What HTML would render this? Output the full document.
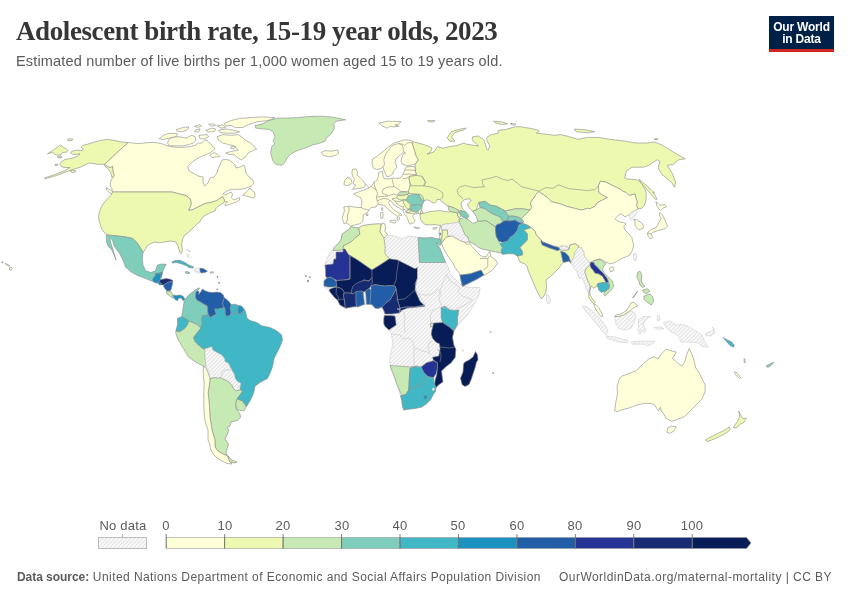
<!DOCTYPE html>
<html><head><meta charset="utf-8">
<style>
html,body{margin:0;padding:0;background:#fff;}
body{width:850px;height:600px;position:relative;overflow:hidden;font-family:"Liberation Sans",sans-serif;}
.t{position:absolute;white-space:nowrap;will-change:transform;}
#title{left:16px;top:16px;font-family:"Liberation Serif",serif;font-size:27px;color:#363636;letter-spacing:-0.4px;font-weight:bold;}
#sub{left:16.2px;top:52.9px;font-size:14.5px;color:#5b5b5b;letter-spacing:0.165px;}
#logo{position:absolute;will-change:transform;left:769px;top:16px;width:65px;height:33px;background:#002147;border-bottom:3px solid #ce261e;color:#fff;text-align:center;font-size:12px;line-height:12px;font-weight:bold;letter-spacing:-0.2px;}
#logo div{padding-top:5px;}
#foot{left:17px;top:569.5px;font-size:12px;color:#5b5b5b;letter-spacing:0.43px;}
#foot b{color:#5b5b5b;letter-spacing:-0.05px;}
#foot2{right:18px;top:569.5px;font-size:12px;color:#5b5b5b;letter-spacing:0.46px;}
.lab{position:absolute;will-change:transform;top:518px;font-size:13px;color:#5b5b5b;transform:translateX(-50%);letter-spacing:0.2px;}
svg{position:absolute;left:0;top:0;}
</style></head><body>
<svg width="850" height="600" viewBox="0 0 850 600">
<defs><pattern id="h" patternUnits="userSpaceOnUse" width="2.83" height="4" patternTransform="rotate(45)"><rect width="2.83" height="4" fill="#fff"/><line x1="0.7" y1="0" x2="0.7" y2="4" stroke="#e3e3e3" stroke-width="1.3"/></pattern></defs>
<g stroke="#8a8a8a" stroke-width="0.6" stroke-linejoin="round">
<path fill="#edf8b1" d="M128.1 142.5L121.2 141.9L115 140.6L108.1 139.4L102.5 140L95 141.9L88.8 143.8L82.5 145.6L81.2 146.9L83.1 149.4L82.5 150.6L77.5 150L71.9 151.2L70.6 153.1L72.5 154.4L77.5 154.4L80 153.8L77.5 156.2L72.5 158.1L65 159.4L61.2 161.9L60 164.4L61.9 166.9L65 167.5L70 167.5L65 170.6L55 174.4L44.4 178.1L45 178.8L56.2 175.6L71.2 170L81.2 166.9L88.8 163.1L93.8 163.5L98.8 164.4L104.4 164.4L107.5 166.2L110 167.5L112.5 166.2L113.1 171.2L114.4 175.6L111.9 177.5L110.6 172.5L108.1 168.8L105 166.2L104.4 164.4Z"/>
<path fill="#edf8b1" d="M47.5 153.8L52.5 150.6L60.6 144.8L63.1 146.9L66.9 149.4L68.1 150.6L66.2 152.2L62.5 152.5L60.6 155L56.2 155L52.5 152.5Z"/>
<path fill="#edf8b1" d="M67.5 139.5L70 138.8L73 139L72 140.6L68 140.6Z"/>
<path fill="#edf8b1" d="M55 164.4L58 164.2L57.5 165.6L55 165.6Z"/>
<path fill="#edf8b1" d="M57.5 156.5L61 156L62 157.5L58 158Z"/>
<path fill="#edf8b1" d="M70 171L73 170L76 171L73 173Z"/>
<path fill="#c7e9b4" d="M255 125.6L262.5 123.8L268.8 120.6L277.5 118.1L287.5 118.1L298.8 117.5L308.8 116.5L320 116.2L332.5 117.1L345.6 119.8L336.2 121.2L333.8 123.8L334.4 128.1L332.5 131.9L330 135L326.2 138.1L325 141.2L320 143.1L312.5 145L305 148.1L297.5 150.6L291.2 153.8L287.5 157.5L283.8 163.8L281.2 165.6L275 163.8L272.5 160L270.6 152.5L271.9 146.2L275 143.8L273.1 141.2L275 136.2L272.5 131.2L268.8 129.4L261.2 128.8L255.6 128.1Z"/>
<path fill="#ffffd9" d="M321.2 152.5L325 150.6L331.2 151.2L337.5 150L338.8 153.1L335 155.6L328.8 156.9L323.8 155.6Z"/>
<path fill="#ffffd9" d="M378.8 123.1L387.5 121.2L401.2 121.5L398.8 123.8L395 125L398.8 126.2L393.8 126.9L390 126.2L387.5 128.1L382.5 126.2Z"/>
<path fill="#edf8b1" d="M427.5 120.6L435 120.6L433 121.9L429 121.9Z"/>
<path fill="#ffffd9" d="M128.1 142.5L138.7 143.6L148 142.6L155 142.4L162.1 143.8L167.7 145.9L176.2 147.3L183.2 147.3L190.3 146.6L195.9 145.2L197.4 143.1L201.6 143.1L204.4 140.2L207.2 140.2L208.6 142.4L211 144L213 147L215 148L213 150.5L210 153L205 155L200 157L195 160L190 164L187.5 167L189 171L193 173L198 176L203 177L203 182L204.5 186L208 183L210 178L214 177L217 173L218 169L220 165L222 160L225 159.5L229 160L232 162L235 165L236 168L240 167L244 165L245 168L246 173L249 177L252 179L254 183L251.5 186.2L248.5 187L244.8 188.5L241 189.2L236.5 189.2L232 189.6L229 190L226 191.5L223 193.8L224.5 195L227.5 193.8L231.2 192.2L232.8 194.5L231.2 197.5L233.5 199.8L236.5 199L239.5 197.5L239.5 199.8L236.5 202L232 203.5L227.5 205L225.2 205.8L225.2 203.5L227.5 202L224.5 201.2L224.5 200.5L223 196.8L220 198.2L217 200.5L212.5 202L205 203.5L200 206L193 209.5L188.6 210.4L191.2 204.2L190.4 199L186 195.5L179 193.8L172 192L112.5 192L111.9 188.8L110 185L111.2 180L114.4 175.6L113.1 171.2L112.5 166.2L110 167.5L107.5 166.2L104.4 164.4Z"/>
<path fill="#ffffd9" d="M242.5 195.2L247 191.5L250 187.8L251.5 190L254.5 192.2L255.2 196L253.8 198.2L251.5 197.5L249.2 196.8L246.2 196Z"/>
<path fill="#ffffd9" d="M106 188L109 189L113 192L113.5 195L110 193L106.5 190Z"/>
<path fill="#ffffd9" d="M159.2 138.8L163.5 135.3L169.1 133.2L177.6 133.9L176.2 136.7L169.1 138.1L163.5 139.5Z"/>
<path fill="#ffffd9" d="M168.4 140.2L171.9 137.4L179 136.7L186.1 138.1L191.7 135.3L195.2 136.7L195.9 140.2L193.1 143.1L188.9 144.5L183.2 145.9L176.2 145.9L169.1 145.9L167.7 143.1Z"/>
<path fill="#ffffd9" d="M176.2 129.6L183.2 127.5L188.9 126.8L187.5 129.6L181.8 131.8L176.9 131.1Z"/>
<path fill="#ffffd9" d="M194.5 126.1L200.2 124.7L201.6 126.1L197.4 127.5Z"/>
<path fill="#ffffd9" d="M196 129.6L200.2 128.9L198.8 131.8L194.5 131.8Z"/>
<path fill="#ffffd9" d="M198.8 135.3L207.2 134.6L208.6 136.7L204.4 138.8L200.2 138.8Z"/>
<path fill="#ffffd9" d="M205.8 130.4L211.5 128.2L215.7 128.9L214.3 131.8L208.6 131.8Z"/>
<path fill="#ffffd9" d="M208.6 124L214.3 124L215.7 125.4L211.5 126.1Z"/>
<path fill="#ffffd9" d="M217.1 126.1L222.8 124.7L225.6 127.5L221.4 128.2Z"/>
<path fill="#ffffd9" d="M218.5 130.4L225.6 128.9L234.1 130.4L239.7 131.8L234.1 133.2L225.6 133.2L220 132.5Z"/>
<path fill="#ffffd9" d="M224.2 123.3L231.2 120.5L239.7 118.4L251 117.6L262.3 116.9L275 117.6L268 120.5L256.6 121.9L248.2 124.7L242.5 127.5L235.5 127.5L231.2 125.4L225.6 126.1Z"/>
<path fill="#ffffd9" d="M217.1 136.7L222.8 134.6L231.2 135.3L238.3 134.6L242.5 137.4L245.4 140.2L249.6 142.4L253.8 145.9L256.6 149.4L252.4 150.8L248.2 152.9L245.4 157.2L241.1 160L236.9 157.2L234.1 154.4L228.4 154.4L225.6 152.9L231.2 151.5L238.3 150.1L234.1 145.9L228.4 144.5L222.8 143.1L218.5 140.2Z"/>
<path fill="#ffffd9" d="M231.2 146.6L235.5 146.6L234.1 148.7L230.5 148.4Z"/>
<path fill="#ffffd9" d="M210 155L214 152.5L218 154.5L220 156.5L216 157L212 157.5Z"/>
<path fill="#edf8b1" d="M112.5 192L172 192L179 193.8L186 195.5L190.4 199L191.2 204.2L188.6 210.4L193 209.5L200 206L205 203.5L212.5 202L217 200.5L220 198.2L223 196.8L224.5 200.5L223.8 202.8L220 205L216.2 208L214.8 211L209.5 213.2L205 215.5L201.8 218.2L200 221.8L196.5 224.4L193 228L189.5 231.4L184.2 235.8L182.5 239.2L181.6 244.5L182.5 249.8L181.6 253.2L179.9 252.4L178.1 246.2L175.5 241.9L170.2 241L165 241.9L159.8 242.8L154.5 241.9L151 243.6L147.5 245.4L144.9 249.8L143.1 252.4L140.5 248L137 242.8L132.6 238.4L128.2 237.5L123 236.6L116 235.8L106.4 234.9L102 229.6L99.4 221.8L98.5 216.5L100.2 209.5L102.9 204.2L107.2 199L110.8 195.5Z"/>
<path fill="#7fcdbb" d="M106.4 234.9L116 235.8L123 236.6L128.2 237.5L132.6 238.4L137 242.8L140.5 248L143.1 252.4L142.2 258.5L143.1 265.5L145.8 270.8L151 272.5L155.4 270.8L157.5 265L161.9 264L166.3 264.3L164.4 267.5L162.6 271.8L160.7 272.7L159.3 273.2L155.1 273.7L156 275L155.1 276L153.7 277.4L152.8 279.3L151.9 280.7L150 280.5L145.8 278.6L138.8 276L131.8 272.5L125.6 267.2L123 260.2L119.5 253.2L114.2 246.2L112.5 240.1L109.9 237.5L110.5 242L113 250L116 260.2L114.2 255L111.6 249.8L108.1 246.2L106.4 241Z"/>
<path fill="#41b6c4" d="M171.9 261.9L175 260.6L180 260.2L185 262.5L188.8 265L193.8 266.9L193.1 268.1L188.8 267.5L186.2 265.6L181.2 263.8L176.2 262.5L172.5 263.1Z"/>
<path fill="url(#h)" stroke="#cdcdcd" d="M195 268.8L200 268.1L200 273.1L196.2 272.5L197.5 271.2L194.4 271.2Z"/>
<path fill="#225ea8" d="M200 268.1L203.8 268.8L207.5 271.2L205 272.5L201.2 273.1L200 271.2Z"/>
<path fill="#7fcdbb" d="M185 271.9L187.5 271.5L190 273.1L186.9 273.8Z"/>
<path fill="#edf8b1" d="M210 271.9L213.8 271.9L213.1 273.1L210 273.1Z"/>
<path fill="#1d91c0" d="M155.1 273.7L159.3 273.2L160.7 272.7L161.2 277.4L159.8 277.9L161.2 278.8L159.8 280.2L159.3 281.6L157.9 283L156.1 283L153.7 282.1L152.3 281.1L152.8 279.3L153.7 277.4L155.1 276L156 275Z"/>
<path fill="#1d91c0" d="M160.7 272.7L162.6 271.8L162.1 275.1L161.2 277.4Z"/>
<path fill="#1d91c0" d="M157.9 283L159.3 281.6L161.2 283.5L161.7 284.9L159.3 284.9Z"/>
<path fill="#172b73" d="M159.8 280.2L162.1 279.3L166.3 278.6L170.5 279.3L172.9 280.7L171.9 281.6L168.7 282.1L165.9 283.5L164 284.9L161.7 284.9L161.2 283.5L159.3 281.6Z"/>
<path fill="#225ea8" d="M164 284.9L165.9 283.5L168.7 282.1L171.9 281.6L172.9 280.7L172.4 284.4L171.5 288.1L170.6 290.6L167.5 291.2L165 288.8L163.5 286.2Z"/>
<path fill="#c7e9b4" d="M166.2 291.2L170.6 291.2L173.1 295L172.5 298.1L170 296.2L166.9 293.8Z"/>
<path fill="#1d91c0" d="M173.1 295L176.2 295.6L180 295L183.1 296.2L185 299.4L183.1 300.6L181.2 298.1L178.8 298.1L177.5 300.6L175.6 300L173.8 298.1Z"/>
<path fill="#7fcdbb" d="M198.6 287.8L199.5 288.5L197.5 290.5L196 292.5L195.6 296L195.6 297.7L197.3 300.3L200.8 302.1L203.4 303.8L206.9 305.5L207.7 307.3L207.7 311.6L208.6 315.1L207.7 315.1L202.5 315.9L201.7 319.4L202.5 322.9L200.8 328.1L197.3 324.6L191.3 322L188.7 321.1L185.2 318.5L181.7 316.5L182.6 311.6L183.5 305.5L184.3 300.3L188.7 295.1L193 291.7Z"/>
<path fill="#225ea8" d="M196 292.5L197.3 290.8L199.1 291.7L198.6 294.7L200.8 291.7L202.5 289.1L205.1 290.8L208.6 292.1L212.9 292.5L216.4 292.1L220.7 292.5L223.3 295.1L224.2 297.7L222.5 303.8L224.2 307.3L222.5 308.1L218.1 309L214.7 309L215.5 311.6L216.4 314.2L212.9 315.9L210.3 317.7L208.6 315.1L207.7 311.6L207.7 307.3L206.9 305.5L203.4 303.8L200.8 302.1L197.3 300.3L195.6 297.7L195.6 296Z"/>
<path fill="#225ea8" d="M224.2 297.7L226.8 299.5L229.4 302.1L231.1 304.7L230.3 308.1L231.1 312.5L230.3 315.1L226.8 316.8L225.1 314.2L225.1 309.9L224.2 307.3L222.5 303.8Z"/>
<path fill="#41b6c4" d="M231.1 304.7L235.5 304.2L238.1 305.5L238.1 309L237.2 313.3L233.7 314.2L231.1 313.3L230.3 308.1Z"/>
<path fill="#1d91c0" d="M238.1 305.5L241.5 306L244.1 309L242.4 312.5L239.8 314.2L237.6 313.3L238.1 309Z"/>
<path fill="#41b6c4" d="M202.5 315.9L207.7 315.1L208.6 315.1L210.3 317.7L212.9 315.9L216.4 314.2L215.5 311.6L214.7 309L218.1 309L222.5 308.1L224.2 307.3L225.1 309.9L225.1 314.2L226.8 316.8L230.3 315.1L231.1 313.3L233.7 314.2L237.2 313.3L239.8 314.2L242.4 312.5L244.1 309L245.9 312.5L246.7 317.7L250 320.5L256.7 322.5L261.7 325.8L270 327.5L276.7 330.8L281.7 335L282.5 340L280 346.7L276.7 353.3L274.2 358.3L272.5 366.7L270 373.3L267.5 378.5L260 382.5L255 386.2L253.8 392.5L251.2 398.8L247.5 405L246.2 406.9L242.5 401.2L236.9 398.8L242.5 391.2L240.5 390L240 386.7L240.8 383.3L237.5 381.7L235 378.3L234.2 374.2L231.7 370L230 366.7L228.3 363.3L225 361.7L224.2 358.3L221.7 355L216.7 352.5L212.5 350L211.7 346.7L206.7 348.3L203.3 349.2L198.3 345L195 341.7L193.3 337.5L196.7 333.3L200.8 328.1L202.5 322.9L201.7 319.4Z"/>
<path fill="#41b6c4" d="M177.5 318.3L181.7 316.7L185.2 318.5L188.7 321.1L187.8 324.6L185.2 328.1L180 331.7L175.8 330.8L177.5 325Z"/>
<path fill="#c7e9b4" d="M175.8 331.5L180 331.7L185.2 328.1L187.8 324.6L188.7 321.1L191.3 322L197.3 324.6L200.8 328.1L196.7 333.3L193.3 337.5L195 341.7L198.3 345L203.3 349.2L205 349.2L205 353.3L205 357.5L205.8 361.7L205.8 365.8L204 366.5L202.5 365.8L195 361.7L188.3 356.7L183.3 348.3L178.3 340L175.8 333.3Z"/>
<path fill="url(#h)" stroke="#cdcdcd" d="M205 349.2L211.7 346.7L212.5 350L216.7 352.5L221.7 355L224.2 358.3L225 361.7L228.3 363.3L230 366.7L231.7 370L228.3 370L225.8 370L222.5 371.7L221.7 375L220 377.5L217.5 378.3L215 377.5L211.7 378.3L210 376.7L209.2 372.5L207.5 369.2L205.8 365.8L205.8 361.7L205 357.5L205 353.3Z"/>
<path fill="url(#h)" stroke="#cdcdcd" d="M222.5 371.7L225.8 370L228.3 370L231.7 370L234.2 374.2L235 378.3L237.5 381.7L240.8 383.3L240 386.7L239.2 390L235.8 390.8L233.3 388.3L231.7 385L228.3 381.7L225 380L221.7 378.3L221.7 375Z"/>
<path fill="#c7e9b4" d="M236.9 398.8L242.5 401.2L246.2 406.2L244.4 410.6L240 410.6L236.2 408.8L235.6 403.8Z"/>
<path fill="#c7e9b4" d="M210 378.3L211.7 378.3L215 377.5L217.5 378.3L220 377.5L221.7 378.3L225 380L228.3 381.7L231.7 385L233.3 388.3L235.8 390.8L239.2 390L240.5 390L242.5 391.2L236.9 398.8L235.6 403.8L236.2 408.8L240 413.8L240.6 417.5L237.5 420.6L231.2 421.9L230 426.2L226.9 427.5L228.8 430L227.5 434L225 439L228.5 444L227 449L226 453L227.5 455.5L224 454.5L218 451L215 447L215 440L212 430L211.2 425L210 417.5L209.4 405L208.1 392.5L209.4 385Z"/>
<path fill="#c7e9b4" d="M228 456L232 460L237 462L234 463L230 462L228.5 459Z"/>
<path fill="#ffffd9" d="M203.3 366.7L205.8 367.5L208.3 373.3L210 378.3L209.4 385L208.1 392.5L209.4 405L210 417.5L212 430L215 440L215 447L218 451L224 454.5L227.5 456L228.5 459L230 462L232 464L227 463.5L222 461L217 458L213 454L210.5 449L209.5 443L208 440L208 430L206.2 425L204.4 417.5L203.8 405L203.8 395L204.2 383.3L203.3 375Z"/>
<path fill="url(#h)" stroke="#cdcdcd" d="M350.7 226.7L354 227.3L358.7 228L362.5 225.6L370 224.4L378.8 223.8L383.8 223.1L385.6 226.2L385 231.2L387.5 235L395 236.2L402.5 238.8L407.5 236.2L412.5 236.2L418.1 237.5L425 238.1L431.2 237.5L437.5 238.8L440 238.8L441.5 243L440 245.5L438 243.5L436.2 242.5L440 248.8L442.5 255L445.6 262.5L448.8 268.8L450 273.8L455 279L460 284L462.5 286.2L470 287.5L480 287.5L480 289L478.8 295L475 302.5L470 311.2L465 317.5L458.8 325L453.8 331.2L452.5 337.5L453.8 345L455.8 349.1L455.2 357.3L451.1 362.8L445.6 366.9L441.5 371L442.2 376.5L442.9 381.9L438.8 384.7L436 387.4L435.3 391.5L433.3 394.2L430.6 399.7L426.5 403.8L421 407.2L414.2 408.6L407.3 409.3L403.9 410L402.5 406.5L401.9 401.1L400.5 395.6L397.1 384.7L393.7 375.1L390.9 368.3L390.2 365.5L389.6 360.1L390.9 351.9L393 343.7L391.6 335.5L389.6 330L388.8 330L385 326.2L383.8 323.8L383.8 318.8L384.4 315L384 311L382 307.5L378 308.5L375 308.1L370 304.4L365 304.4L360 306L357 307L352 307L346 308.2L345 308.2L340 305L337.5 300L332.5 295L329 291L327 289L324 286.5L323.5 283L324 281L326.2 275L325.6 270L325 264.4L327.5 257.5L330 252.5L334 247.7L338.7 243L341.3 239L342 234.3L345.3 231.7L348.7 229.7Z"/>
<path fill="#c7e9b4" d="M334 247.7L338.7 243L341.3 239L342 234.3L345.3 231.7L348.7 229.7L350.7 226.7L354 227.3L358.7 228L360 234.3L354.7 238.3L351.3 241.7L346.7 244.3L343.3 245.7L343.3 248.3L342.5 250L333.4 250.5Z"/>
<path fill="#edf8b1" d="M343.3 248.3L343.3 245.7L346.7 244.3L351.3 241.7L354.7 238.3L360 234.3L358.7 228L362.5 225.6L370 224.4L378.8 223.8L381.2 224.4L380 231.9L383.8 237.5L385 245L385 253.8L389.4 258.8L380 265L371.9 270L367.5 266.9L357.5 260L348.8 255L343.8 251.2Z"/>
<path fill="#ffffd9" d="M381.2 224.4L383.8 223.1L385.6 226.2L385 231.2L387.5 235L385 237.5L383.8 237.5L380 231.9Z"/>
<path fill="#7fcdbb" d="M418.1 237.5L425 238.1L431.2 237.5L437.5 238.8L440 238.8L441.5 243L440 245.5L438 243.5L436.2 242.5L440 248.8L442.5 255L445.6 262.5L419.4 262.5L418.8 251.2Z"/>
<path fill="#253494" d="M336 252L343 252L343 249L345 249L348.8 255L350 255.5L350 279L344 280L337 280.5L333 278.5L330 277L327 278L325.6 276L325.6 270L325 265L333 264L334 259L336 259Z"/>
<path fill="#1d91c0" d="M305 275.5L306.5 275.8L306 276.8Z"/>
<path fill="#1d91c0" d="M309.5 276.5L310.5 277L310 278Z"/>
<path fill="#1d91c0" d="M307 280.5L308.5 280L308.5 281.5L307.5 281.8Z"/>
<path fill="#081d58" d="M350 255.5L357.5 260L367.5 266.9L371.9 270L380 265L389.4 258.8L397.5 260L415 268.8L417.5 267.5L417.5 277.5L416.2 282L415 290L420 301.2L425 306.2L413.8 307.5L407.5 308.1L402.5 310L399 313L400 308L398 302L397 295L396 289L395 286L390 285.5L385 286L380 285.5L375 284.5L371 286L369 288.5L365.5 291L363 292L362 291L357 292L353 294L350 293L344 293L343 290L340 288L336.5 287L336 281L337 280.5L344 280L350 279Z"/>
<path fill="#225ea8" d="M324 281L327 278L330 277L333 278.5L336 281L336.5 286.5L333 287L328 287L324 286Z"/>
<path fill="#081d58" d="M329 290L331 288.5L336.5 287L340 288L343 290L344 292L344 293L343.5 296L344.5 300L345 305L345.5 308L340 305L337.5 300L335 298L332.5 295L330 292Z"/>
<path fill="#172b73" d="M351 292L353 286L357 283L362 281L364 280L369 281L372 277.5L372.5 282.5L371 286L369 288.5L365.5 291L363 292L362 291L357 292L353 294Z"/>
<path fill="#172b73" d="M344 293L350 293L353 294L356 292L356 302L356.5 306.5L352 307L346 308.2L345.5 308L345 305L344.5 300L343.5 296Z"/>
<path fill="#225ea8" d="M356 291.5L362 291L363 292L364 300L364.5 304.3L360 306L357 307L356.5 306.5L356 302Z"/>
<path fill="#225ea8" d="M365.5 291L369 288.5L371 290L370.5 297L370 304.3L366.5 304.3L366 296Z"/>
<path fill="#225ea8" d="M371 286L375 284.5L380 285.5L385 286L390 285.5L395 286L396 289L393 295L390 300L386 303L382 307L378 308.5L375 308.1L372 304.5L370 304.3L370.5 297L371 290Z"/>
<path fill="#172b73" d="M396 289L397 295L398 302L400 308L399 313L392 314L385 314L384.4 312L384 311L382 307L386 303L390 300L393 295Z"/>
<path fill="#081d58" d="M384.4 315.5L390 315.5L395 316L396.2 325L392.5 327.5L388.8 330L385 326.2L383.8 323.8L383.8 318.8Z"/>
<path fill="#41b6c4" d="M441.2 307.5L445 306.2L450 310L453.8 310.6L458.8 310L457.5 317.5L457.5 324.4L453.8 331.2L450 327.5L442.5 322.5L441.2 317.5Z"/>
<path fill="#c7e9b4" d="M430.5 323.5L433.8 323.1L433.5 326.5L430.5 327Z"/>
<path fill="#081d58" d="M433.8 323.1L442.5 322.5L450 327.5L453.8 331.2L452.5 337.5L453.8 345L455.8 349.1L455.2 357.3L451.1 362.8L445.6 366.9L441.5 371L442.2 376.5L442.9 381.9L438.8 384.7L436 387.4L434.7 384.7L435.3 379.2L436.7 375.1L437.4 368.3L437.4 362.8L433.3 360.1L432.6 357.3L438.8 356L440.1 349.1L439.4 343.7L436 342.3L432.6 338.2L431.2 334.1L431.9 330Z"/>
<path fill="#253494" d="M421 366.9L426.5 362.8L433.3 360.7L437.4 362.8L437.4 368.3L436 373.7L433.3 377.8L427.8 376.5L423.7 372.4Z"/>
<path fill="#c7e9b4" d="M390.2 365.5L400.5 366.2L409.4 366.9L417.6 366.2L410.1 368.3L409.4 376.5L408.7 390.1L406 394.2L402.5 395.6L400.5 392.9L397.1 384.7L393.7 375.1L390.9 368.3Z"/>
<path fill="#41b6c4" d="M410.1 368.3L417.6 366.2L421 366.9L423.7 372.4L427.8 376.5L422.4 381.9L419.6 386L414.2 387.4L408.7 390.1L409.4 376.5Z"/>
<path fill="#41b6c4" d="M408.7 390.1L414.2 387.4L419.6 386L422.4 381.9L427.8 376.5L433.3 377.8L434.7 384.7L436 387.4L435.3 391.5L433.3 394.2L430.6 399.7L426.5 403.8L421 407.2L414.2 408.6L407.3 409.3L403.9 410L402.5 406.5L401.9 401.1L400.5 395.6L402.5 395.6L406 394.2Z"/>
<path fill="#1d91c0" d="M423.5 396.5L426 395L427.5 397L425 399.5Z"/>
<path fill="url(#h)" stroke="#cdcdcd" d="M432 388.5L434 388L434.5 390L432.5 390.5Z"/>
<path fill="#081d58" d="M475.5 351.5L477.5 355L478 360L476.5 362L475 368L473 374L471 380L469 384.5L465 386.5L462 384.5L460.5 378L463 372L463.5 364L465 362L469 360L473 357Z"/>
<path fill="#c7e9b4" d="M492.5 372.5L493.8 372.8L493.3 374Z"/>
<path fill="url(#h)" stroke="#cdcdcd" d="M462 350L463.5 350.5L463 351.5Z"/>
<path fill="#c7e9b4" d="M490 331.5L491.3 331.8L490.8 332.6Z"/>
<path fill="#edf8b1" d="M412.5 141.9L413.8 141.9L421.2 143.8L427 145.6L432.2 148.2L430.5 151.8L427 154.4L434 151.8L437.5 146.5L442.8 148.2L449.8 146.5L456.8 145.6L463.8 143L466 144L472 145L478.5 146L476 143.5L472 140L472.8 136.7L478.5 136L481.3 138.1L483 139L484.1 140.2L485.5 144.5L486.9 149.4L488 150.5L489.8 145.9L487.6 141.6L486.2 138.1L486.9 137.4L491.2 134.6L498.2 133.2L498.2 130.4L505.3 129.6L515.2 126.8L520.8 126.8L529.3 128.2L536.4 129.6L539.2 131.1L536.4 133.2L543.4 133.9L554.7 135.3L560.4 134.6L568.7 136.5L578 139.3L587.3 137.4L598.5 137.4L609.7 139.3L624.6 141.1L635.8 143L647 143L654.5 142L662 144.9L669.4 149.5L676.9 154.2L685.3 158.8L678.7 159.8L673.1 164.4L667.5 165.4L669 168L672.5 173.8L674 178.2L675.5 182L674.8 187.2L671.8 182.8L666.5 178.2L662 174.5L659 170L658.2 167.2L660.1 161.6L657.3 159.8L652.6 162.6L648.9 165.4L643.3 167.2L632.1 167.2L626.5 171L624.6 177.5L627.5 179L632.8 179.4L637.2 179.8L640.2 182L642.5 185L644.8 188.8L646.2 192.5L646.2 197.8L645.5 202.2L644 206L641.8 208.2L638 209L636.5 205.2L637.2 201.5L635.8 197.8L635 194L629 195.5L626 192.5L622.2 191L620.9 189.6L613.4 185.9L606 182.2L600.4 181.2L598.5 186L598.8 192.5L602.5 195L607.5 197.5L602.5 200L597.5 202.5L595 206.2L590 208.8L587.3 208.3L581.7 210.1L574.3 208.3L566.8 206.4L560 203.8L551.5 201.7L547.3 197.5L543 194.5L538.8 191.5L536 194.6L533.2 198.9L530.4 203.1L531.8 207.4L530 210L522.5 208.8L515 208.8L510 210L505 211L501.2 208.8L496.2 206.2L490 205L485 201.2L478.8 202.5L476.2 210L472.5 211.2L468.8 207.5L467.5 203.8L471.2 201.2L470 198.8L465 199.4L461.2 202.5L461.2 205L462.5 208.8L465 211.5L463 211.5L461 210.5L458 210L453 207.5L448 206L445 204L442 202L440 199.5L437 199.5L436.5 201.5L434.5 203L432 202.5L430 200.8L427 199.8L424 201L423.3 199.5L421 197L418.5 194.5L413.3 194L409 193.6L408.1 191L409.4 188.4L409.9 185.8L409.9 182.3L409 178.9L409.9 176.3L416.8 175.4L415.5 172L415 168L415.2 164.2L418.2 159.8L416 156L414.5 150.8L413 146.2L412.2 143.2Z"/>
<path fill="#edf8b1" d="M401 177.6L405.5 177.3L405.5 178.9L401.5 179Z"/>
<path fill="#edf8b1" d="M447.1 137.8L451.5 131.6L460.2 129L466.4 128.1L463.8 129.9L455 132.5L451.5 136.9L455 141.2L449.8 141.2Z"/>
<path fill="#edf8b1" d="M493.5 121.1L502.2 122L507.5 123.8L502.2 124.6L495.2 122.9Z"/>
<path fill="#edf8b1" d="M510 123.5L516 124L514 125.5Z"/>
<path fill="#edf8b1" d="M574.3 129L587.3 130L594.8 131.8L587.3 132.7L576.1 131.8Z"/>
<path fill="#edf8b1" d="M654 139L658 138.5L657 140Z"/>
<path fill="#edf8b1" d="M639.1 179L642.5 182L647 185.8L651.5 190.2L654.5 192.5L653 192.5L655.2 195.5L657.1 199.2L655.2 199.2L652.2 195.5L649.2 191.8L644.8 187.2L641 182.8Z"/>
<path fill="#ffffd9" d="M413 141.8L410 140.2L406.2 139.9L402.5 140.2L398.8 141.8L395 142.5L391.2 144.8L387.5 147.8L383.8 150.8L380 153.8L376.2 156.8L372.5 159L372.1 163.5L373.2 168L376.2 169.5L380 168.8L383 167.2L383.8 170.2L385.2 173.2L386.8 176.6L389.8 176.2L392.8 174L393.5 171L396.5 168L396.5 165L395 162.8L395.8 159.8L397.2 157.5L400.2 155.2L402.5 153L405.5 153L402.5 155.2L401.8 158.2L401 161.2L402.5 164.2L407 165.8L411.5 165L415.2 164.2L418.2 159.8L416 156L414.5 150.8L413 146.2L412.2 143.2Z"/>
<path fill="#ffffd9" d="M415 167L412 166.5L406.5 166.8L405 169L404 172L402.5 175L401 177.6L398 178.5L393 178L388 179L384 178.5L383 176L382.5 171.2L378.8 172.5L378.1 177.5L377 180L374 182L372.5 184.5L371 186.5L368.8 188.1L363.8 190L358.8 191.9L353.8 193.8L356.2 195.6L360.6 197.5L361.9 201.2L361.2 207.5L357.5 207.5L350 206.2L343.8 206.9L344.4 211.2L343 215L342.3 218.3L343.3 221.7L344 223.7L346.7 223L349.3 225L350.7 226L354.7 225L360 223.7L362.7 221.7L363.3 217.7L363.1 215L367.5 212.5L368.8 210L371.2 207.5L376.2 206.9L377.4 204.4L378.5 205L379.7 204.4L382.1 205L384.4 205.6L385.6 206.2L386.8 207.9L388.5 209.7L390.3 210.9L392.1 212.6L393.8 213.8L395.6 215L397.4 216.8L397.1 219.1L397.6 220.3L399.1 219.7L399.7 217.9L398.5 216.2L399.1 214.4L400.3 215.6L402.1 215.3L400.9 213.8L398.5 212.6L396.2 211.5L393.8 209.7L391.5 207.4L389.7 205L388.5 202.6L389.1 201.5L390.3 200.3L391.5 201.5L392.6 203.2L394.4 205L396.8 206.8L399.1 207.9L401.5 209.7L403.2 210.3L403.8 212.1L404.5 214L405.5 215.5L406.8 216.8L407.4 218.5L408.5 220.9L409.1 223.2L410.3 224.4L411.5 222.6L412.6 223.8L413.8 222.6L415 220.9L413.8 218.5L412.6 216.2L413.8 214.4L416.2 213.8L418.5 213.2L419 214L421 213.5L420.5 212L421.5 210.5L422 208L422 206L422.5 204L423.5 202L424 201L423.3 199.5L421 197L418.5 194.5L413.3 194L409 193.6L408.1 191L409.4 188.4L409.9 185.8L409.9 182.3L409 178.9L409.9 176.3L416.8 175.4L415.5 172Z"/>
<path fill="#ffffd9" d="M352.5 169.4L356.2 168.8L357.5 172.5L356.9 175L360 177.5L362.5 180L364.4 182.5L365.6 185L363.8 187.5L360 188.1L356.2 188.8L352.5 189.4L354.4 186.9L355.6 185L353.1 183.8L353.8 181.2L354.4 178.8L352.5 176.2L351.9 172.5Z"/>
<path fill="#ffffd9" d="M343.8 184.4L345 180L347.5 177.5L350.6 178.1L351.9 182.5L350 185L346.2 185.6Z"/>
<path fill="#ffffd9" d="M389.7 220.9L392.6 220.3L395.6 220.3L396.2 221.5L395 223.2L392.6 222.6L390.3 222.1Z"/>
<path fill="#ffffd9" d="M380.6 212.6L382.9 212.6L383.2 215L382.9 217.9L380.9 218.5L380.6 215.6Z"/>
<path fill="#ffffd9" d="M381.5 207.9L382.6 207.6L382.9 210.3L382.1 210.9L381.5 209.7Z"/>
<path fill="#ffffd9" d="M413.8 227.1L417.4 227.4L419.7 227.9L418.5 228.8L415.6 228.5Z"/>
<path fill="#ffffd9" d="M433 228L437 227.3L436 229L433.5 229.2Z"/>
<path fill="#ffffd9" d="M366 214.5L368 214L368 215.5L366.5 215.5Z"/>
<path fill="#edf8b1" d="M409.9 176.3L416.8 175.4L422 176.3L425.5 182.3L423.7 185.8L418.5 185.8L411.6 185.8L409.9 182.3L409 178.9Z"/>
<path fill="#c7e9b4" d="M418.4 194.3L420.5 194.3L423 197L424 200L422.8 200.8L422.3 200.4L420.7 198.5L419.5 196.5Z"/>
<path fill="#7fcdbb" d="M406 200.4L407.3 197L409.5 195.2L412.8 194.8L416.3 194.3L418.4 194.3L419.5 196.5L420.7 198.5L422.3 200.4L423.6 202.2L422.3 204.3L419.7 204.8L416.3 205.2L412.8 205.2L410.2 204.3L408.5 202.6Z"/>
<path fill="#7fcdbb" d="M410.6 205.6L413.7 205.2L418 204.8L421.9 204.8L421.5 207.4L420.7 209.1L418 211.2L415.8 211.7L412.8 211.2L411.1 209.9L410.2 207.4Z"/>
<path fill="#edf8b1" d="M396.8 197.4L398.5 195.2L401.5 195.2L405 194.8L408.1 194.3L408.1 196.5L406.3 199.5L403.7 200L400.7 200L398 199.1Z"/>
<path fill="#c7e9b4" d="M397.6 193.9L399.8 192.2L403.3 191.7L407.2 191.7L408.6 192.6L408.1 194.3L405 194.8L401.5 195.2L398.5 195.2Z"/>
<path fill="#edf8b1" d="M402.8 200L406 200.4L408.5 202.6L410.2 204.3L410.2 207.4L409.3 209.1L407.6 209.1L406.3 207.8L405 205.6L403.7 203Z"/>
<path fill="url(#h)" stroke="#cdcdcd" d="M403.2 210.3L404.5 209.7L405.8 210.5L406.2 212.5L406.5 214.4L405.5 215.8L404.6 215L403.8 212.1Z"/>
<path fill="#edf8b1" d="M406.7 210.4L410.2 209.5L411.1 211.7L408.5 212.6L406.7 212.2Z"/>
<path fill="#edf8b1" d="M420 214L425 213L430 211.5L435 211L440 210.5L445 211.5L449 212L451 211.5L455 212.5L457.5 213L457.5 216L459.5 217.5L461 219L459 222L455 223L451 223.5L447 224L443 224.5L441 226L438 225L434 224.5L430 225L425 224.5L422 222L420.5 219L420 216Z"/>
<path fill="#edf8b1" d="M420.5 212L421.5 210.5L423 211.5L422.5 213.5L420.5 213.5Z"/>
<path fill="#c7e9b4" d="M448 206L453 207.5L458 210L459 212L457.5 213L455 212.5L451 211.5L448.5 210Z"/>
<path fill="#7fcdbb" d="M459 212L461 210.5L463 211.5L465 211.5L467 213L469 216L467 219L464 217L461 216L460 214Z"/>
<path fill="#edf8b1" d="M457.5 213L459 212L460 214L461 216L459.5 217.5L457.5 216Z"/>
<path fill="url(#h)" stroke="#cdcdcd" d="M441 226L443 224.5L447 224L451 223.5L455 223L459 222L460 223.8L462.5 228.8L465 233L467.7 236.7L469 240.7L467 242L465 242.5L461.2 241L458.8 240L452.5 236.2L448.5 236.5L447.5 234L447.5 230L442 230L441 228Z"/>
<path fill="#edf8b1" d="M442 230L447.5 230L447.5 234L448.5 236.5L446 237.5L444 240L442 242L441.5 239L442 234Z"/>
<path fill="#ffffd9" d="M440 226.5L441 226L441 228L442 230L442 234L441.5 239L442 242L441.5 243L440.5 240L439.5 236L439 232L439.5 229Z"/>
<path fill="#1d91c0" d="M439.8 233L440.8 233L440.8 235L439.8 235Z"/>
<path fill="#ffffd9" d="M441.5 243L444 240L446 237.5L448.5 236.5L452.5 236.2L458.8 240L461.2 241L465 242.5L467 242L469.5 242L471 245.3L475 250L477.7 252.7L480.3 255.3L483 256.7L486.3 256.7L488.3 253.3L489.7 251.3L491 256.7L495 259.3L497.7 263.3L492.5 270L485 275L483.8 275L477.5 278.8L470 282.5L462.5 286.2L461.2 281.2L460 275L458.8 272.5L455 267.5L452.5 262.5L448.8 257.5L445 251.2L442.5 246.2Z"/>
<path fill="#225ea8" d="M460 275L470 273.8L481.2 270L483.8 275L477.5 278.8L470 282.5L462.5 286.2L461.2 281.2Z"/>
<path fill="#c7e9b4" d="M458.8 218.8L461 219L464 217L467 219L468.8 220L472.5 223.1L476.2 222.5L477.5 220.6L480 221.2L486 220.5L491 223.8L495.5 226.8L495.6 231.2L496.2 236.2L498.8 241.2L500 243.8L502.5 247.5L501.2 251.2L502.5 253.5L495 251.8L489.7 250.7L487 250L483 249.3L478.3 247.3L475 244.7L470.3 242L469 240.7L467.7 236.7L465 235L462.5 228.8L460 223.8Z"/>
<path fill="#7fcdbb" d="M478.8 202.5L485 201.2L490 205L496.2 206.2L501.2 208.8L505 211L508.8 216.2L507.5 218.8L508.5 221L506 220.5L503 221.5L500 216.9L495 215L490 212.5L485 208.8L480 207.5Z"/>
<path fill="#c7e9b4" d="M476.2 210L480 207.5L485 208.8L490 212.5L495 215L500 216.9L503 221.5L500 223.8L497 224.5L495.5 226.8L491 223.8L486 220.5L480 221.2L477.5 220.6L476.2 216.2L472.5 211.2Z"/>
<path fill="#c7e9b4" d="M510 210L515 208.8L522.5 208.8L530 210L526.2 213.8L523.8 216.5L521.2 218.8L517.5 216.9L513.8 216.2L508.8 216.2L505 211Z"/>
<path fill="#7fcdbb" d="M508.8 216.2L513.8 216.2L517.5 216.9L521.2 218.8L523.8 221.2L523.8 222L521 223L518 222L515 220L512 220.8L508.5 221L507.5 218.8Z"/>
<path fill="#225ea8" d="M495.5 226.8L497 224.5L500 223.8L503 221.5L506 220.5L508.5 221L512 220.8L515 220L518 222L521 223L523.8 222L522.5 223.1L518.8 225L517.5 230L513.8 235L510 237.5L507.5 241.2L502.5 242.5L498.8 241.2L496.2 236.2L495.6 231.2Z"/>
<path fill="#41b6c4" d="M522.5 223.1L527.5 225L531.2 227.5L527.5 231.2L527.5 233.8L527.5 240L523.8 243.8L520 247.5L522.5 251.2L522.5 255L517.5 256.2L513.8 253.8L507.5 253.8L502.5 254.4L501.2 251.2L502.5 247.5L500 243.8L502.5 242.5L507.5 241.2L510 237.5L513.8 235L517.5 230L518.8 225Z"/>
<path fill="#ffffd9" d="M638 209L636.2 210L631.2 212.5L628.8 215L625 216.9L621.2 213.8L618.8 215L615 218.8L618.8 221.9L623.8 222.5L626.2 223.8L623.8 226.2L625 230L628.8 233.8L631.9 237.5L632.5 241.2L633.8 245L632.5 250L630 255L627.5 256.2L621.2 258.8L615 262.5L610 263.8L606 262L600 258.8L593.8 260.6L592.5 261.2L590 263.8L587.5 260L584 256L583.8 252.5L581.2 247.5L577.5 247.5L578.8 246.2L575 243.8L570 245L568.1 249.4L567.5 246.2L561.2 246.2L558.8 247.5L553.8 246.2L547.5 243.8L542.5 241.9L541.2 240L536.2 235L535 231.2L531.2 227.5L527.5 225L522.5 223.1L523.8 221.2L521.2 218.8L523.8 216.5L526.2 213.8L530 210L531.8 207.4L530.4 203.1L533.2 198.9L536 194.6L538.8 191.5L543 194.5L547.3 197.5L551.5 201.7L560 203.8L566.8 206.4L574.3 208.3L581.7 210.1L587.3 208.3L590 208.8L595 206.2L597.5 202.5L602.5 200L607.5 197.5L602.5 195L598.8 192.5L598.5 186L600.4 181.2L606 182.2L613.4 185.9L620.9 189.6L622.2 191L626 192.5L629 195.5L635 194L635.8 197.8L637.2 201.5L636.5 205.2Z"/>
<path fill="#ffffd9" d="M609.4 268.8L611.2 266.9L613.8 267.5L613.8 270.6L610.6 271.9Z"/>
<path fill="url(#h)" stroke="#cdcdcd" d="M633.5 254L636 253.5L637 257L635.5 261.5L633.5 259Z"/>
<path fill="url(#h)" stroke="#cdcdcd" d="M631.2 212.5L636.2 210L637.5 211.9L635 215L633.8 218.8L631.2 220.6L630 218.8L628.8 215Z"/>
<path fill="#ffffd9" d="M633.8 219.4L637.5 220L642.5 223.8L643.8 227.5L640 230L637.5 228.8L635 225L635 221.2Z"/>
<path fill="#ffffd9" d="M656 201.5L659 204.5L662 205.2L665 204.5L666.5 206.8L662.8 208.2L660.5 210.5L659 209L656.8 206Z"/>
<path fill="#ffffd9" d="M660 212.5L662.5 215L665 220L667.5 226.2L665 228.8L660 230L656.2 231.2L652.5 232.5L650 235L647.5 233.8L648.8 231.2L652.5 228.8L656.2 227.5L658.8 222.5L661.2 218.8L659.4 215Z"/>
<path fill="#ffffd9" d="M647.5 233L651.2 234L652.5 237.5L650 238.8L648.1 236.2Z"/>
<path fill="#edf8b1" d="M523.8 230L531.2 227.5L535 231.2L536.2 235L541.2 240L542.5 245L550 248.1L557.5 250.6L560 249.4L562.5 250.6L568.8 250L570 245L575 243.8L578.8 246.2L577.5 248.8L575 252.5L573.8 257.5L571.2 262.5L569 261L565 262L563 262.5L561 265L559 268L556 271L553 274L550 277L547 279L546 281L546.5 286L546 292L544 296L541.5 299L539 295L536 289L533 282L530 275L528 270L527 266L525 264L520 262L517.5 256.2L522.5 255L522.5 251.2L520 247.5L523.8 243.8L527.5 240L527.5 233.8Z"/>
<path fill="#225ea8" d="M560.6 251.2L565 252.5L568.8 256.2L570 260L571.2 263.5L569 261L565 262L563 262L562 257.5L561.2 253.8Z"/>
<path fill="#225ea8" d="M541.2 240L542.5 241.9L547.5 243.8L553.8 246.2L558.8 247.5L560 249.4L557.5 250.6L550 248.1L542.5 245L541.2 242.5Z"/>
<path fill="url(#h)" stroke="#cdcdcd" d="M561.2 246.2L567.5 246.2L568.1 249.4L562.5 250Z"/>
<path fill="url(#h)" stroke="#cdcdcd" d="M546.5 294.5L548 295L550 298L551 301L549.5 304L547.5 303.5L546.5 300Z"/>
<path fill="url(#h)" stroke="#cdcdcd" d="M577.5 247.5L581.2 247.5L583.8 252.5L584 256L587.5 260L590 263.8L590 266.2L588.8 267.5L585 270L585 272.5L586.2 276.2L587.5 280L590 285L590 288.8L588.8 292.5L586.2 290L585 285L583 279L579 278L577 272L572.5 266L571.2 262.5L573.8 257.5L575 252.5L577.5 248.8Z"/>
<path fill="#edf8b1" d="M585 270L588.8 266L590 265L591.2 268.1L593.1 270L595 273.1L598.8 273.8L602.5 276.2L606.2 282.5L602.5 282.5L597.5 283.8L596.2 286.9L593.8 288.1L591.2 286.2L590 290L590 295L592.5 298.8L595 302.5L593.8 303.8L591.2 301.2L588.8 297.5L588.8 292.5L590 288.8L590 285L587.5 280L586.2 276.2L585 272.5Z"/>
<path fill="#253494" d="M590.6 261.9L593.8 262.5L595 265L597.5 266.9L600 270L603.8 273.8L607.5 278.8L608.8 282.5L606.2 282.5L602.5 276.2L598.8 273.8L595 273.1L593.1 270L591.2 268.1L590 265Z"/>
<path fill="#c7e9b4" d="M593.8 262.5L593.8 260.6L600 259.4L606.2 263.8L603.8 266.2L602.5 270L605 273.8L608.8 277.5L612.5 281.2L613.8 286.2L611.2 290L607.5 293.8L605 296.2L603.8 293.8L605 291.2L608.8 288.8L609.4 285L608.8 282.5L607.5 278.8L603.8 273.8L600 270L597.5 266.9L595 265Z"/>
<path fill="#41b6c4" d="M597.5 283.8L602.5 282.5L607.5 282.5L609.4 285L608.8 288.8L605 291.2L601.2 292.5L598.8 290L597.5 286.2Z"/>
<path fill="#ffffd9" d="M593.8 303.8L596.2 305L598.8 307.5L600.6 311.2L603.1 316.2L601.2 316.9L598.8 313.8L596.2 310L594.4 306.2Z"/>
<path fill="url(#h)" stroke="#cdcdcd" d="M614.5 316.5L619 316.5L623.5 315L629.5 311.2L634 312L636.2 316.5L634 322.5L631 328.5L625 330L619 328.5L616 324Z"/>
<path fill="#ffffd9" d="M616 315L620.5 314.2L626.5 310.5L631 303L634 302.2L637.8 306L634 307.5L629.5 311.2L623.5 315L619 316.5L614.5 316.5Z"/>
<path fill="url(#h)" stroke="#cdcdcd" d="M582.2 306L587.5 306.8L593.5 312L599.5 318L605.5 325.5L607.8 331.5L606.2 335.2L602.5 331.5L596.5 324L590.5 316.5L585.2 310.5Z"/>
<path fill="url(#h)" stroke="#cdcdcd" d="M606.2 336L614.5 336.8L622 339L628 340.5L627.2 342.8L619 342L611.5 339.8L607 338.2Z"/>
<path fill="url(#h)" stroke="#cdcdcd" d="M631 342L637 341.2L644.5 341.2L655 341.2L653.5 343.5L647.5 345.8L646 344.2L640 344.2L632.5 344.2Z"/>
<path fill="url(#h)" stroke="#cdcdcd" d="M638.5 319.5L643 316.5L650.5 316.5L646 319.5L643 324L646 330L644.5 333L641.5 330L640 334.5L637.8 330L638.5 324Z"/>
<path fill="url(#h)" stroke="#cdcdcd" d="M657 316L659.5 315.5L660 320L657.5 321Z"/>
<path fill="url(#h)" stroke="#cdcdcd" d="M654 327.5L660 327L664 328.5L658 329.5Z"/>
<path fill="url(#h)" stroke="#cdcdcd" d="M663.5 322.8L670.5 321L675.8 325.4L681 324.5L688 326.2L695 330.6L702 335L703.8 340.2L708.1 347.2L702 346.4L698.5 342.9L688 342L681 342L679.2 337.6L675.8 334.1L670.5 331.5L667 328Z"/>
<path fill="url(#h)" stroke="#cdcdcd" d="M705.5 333.2L710.8 331.5L714.2 329.8L712.5 327L715.1 332.4L710.8 335.9L706.4 335.9Z"/>
<path fill="#c7e9b4" d="M637.5 272.5L640 271.2L641.9 275L641.2 280L642.5 283.8L645 286.2L642.5 287.5L640 285L638.8 281.2L636.9 277.5Z"/>
<path fill="#c7e9b4" d="M643.8 296.2L650 293.8L652.5 296.2L653.8 301.2L651.2 305L647.5 302.5L644.4 300Z"/>
<path fill="#c7e9b4" d="M642.5 290L647.5 288.8L650 291.2L646.2 293.8L643.8 292.5Z"/>
<path fill="#c7e9b4" d="M632.5 297.5L637.5 291.2L636.9 292.5L633.1 298.1Z"/>
<path fill="#ffffd9" d="M614.7 410.9L615.6 403.4L617.5 394.1L617.1 386.6L619.3 379.2L621.2 376.4L628.7 373.6L636.1 370.8L639.9 367.1L643.6 363.3L649.2 358.7L653.8 356.8L658.5 358.7L660.4 354.9L666 349.3L669.7 350.3L676.2 352.1L672.5 358.7L677.2 362.4L681.8 366.1L684.6 362.4L686.5 354.9L689.3 348.4L692.1 354.9L694 360.5L695.8 368L699.6 373.6L702.3 379.2L705.1 384.8L705.1 392.2L701.4 399.7L695.8 405.3L690.2 410.9L684.6 416.5L675.3 420.2L671.6 421.2L666 418.4L664.1 414.6L661.3 410.9L660.4 407.2L658.5 410.9L654.8 405.3L651 403.4L643.6 403.4L636.1 405.3L628.7 408.1L621.2 410L617.5 411.8Z"/>
<path fill="#ffffd9" d="M667.8 427.7L671.6 426.2L676.2 426.8L673.4 431.4L669.7 433.3L666.9 432.3Z"/>
<path fill="#edf8b1" d="M738.7 410.9L740.6 414.6L742.5 418.4L746.2 418.4L744.3 422.1L740.6 424L736.9 427.7L733.1 427.7L736.9 422.1L739.7 416.5Z"/>
<path fill="#edf8b1" d="M729.4 426.8L730.3 429.6L725.7 433.3L720.1 436.1L714.5 438.9L707 441.7L705.1 439.9L710.7 437L718.2 433.3L725.7 429.6Z"/>
<path fill="#ffffd9" d="M734.4 371.8L736 372L740.5 377.5L739.5 378.8L735 374Z"/>
<path fill="#41b6c4" d="M723 337.6L726.5 339.4L731.8 342L734.4 345.5L733.5 347.2L730 345.5L726 341Z"/>
<path fill="#7fcdbb" d="M766 366L770 364L773.8 362L772 364.5L768 367.5Z"/>
<path fill="#ffffd9" d="M744 358.6L745 359L745.3 363L744.3 362.5Z"/>
<path fill="#edf8b1" d="M1.8 262L3 261.8L3 263L2 263Z"/>
<path fill="#edf8b1" d="M5 263.5L7 264L9.5 265.5L9 266.2L6.5 265Z"/>
<path fill="#edf8b1" d="M9.5 267.5L11 267L12.2 268.5L11 270.5L9.5 269.5Z"/>
<path fill="url(#h)" stroke="#cdcdcd" d="M186.5 249.5L189 250L190.5 251.5L188 251.5Z"/>
<path fill="url(#h)" stroke="#cdcdcd" d="M187 254L188.5 254.5L188.5 257L187.3 256.5Z"/>
<path fill="#7fcdbb" d="M217 276L218 276.5L217.5 278Z"/>
<path fill="#7fcdbb" d="M218.5 282L219.5 282.5L219 284Z"/>
<path fill="#7fcdbb" d="M216.5 289L217.8 289L217.5 290Z"/>
</g>
<g fill="none" stroke="#8a8a8a" stroke-width="0.6" stroke-linejoin="round">
<path d="M463.3 198.9L458.4 194.6L457 190.4L459.8 186.9L465.4 185.5L473.9 187.6L480.9 186.9L484.5 186.9L482.4 183.4L482.4 179.8L489.4 178.4L496.5 176.3L502.1 179.1L507.8 180.5L512 179.1L517.7 183.4L521.9 186.9L530.4 189L538.8 191.1"/>
<path d="M538.8 191.1L545.9 187.6L553 188.3L558.6 184.8L568.7 188.7L578 189.6L587.3 190.6L594.8 189.6L598.5 186"/>
<path d="M422 176.3L425.5 182.3L423.7 185.8L428.9 186.7L432.4 187.5L437.6 189.3L440 191L442.8 193L442.8 197.2L440 199.5"/>
<path d="M398.8 260L397.5 268L396.5 275L396.2 280L393.8 285"/>
<path d="M372 277.5L371.9 270"/>
<path d="M396.2 300L405 298.8L413.8 291.2L416.2 290"/>
<path d="M440 347L450 348L455 347"/>
<path d="M437.5 349L440.5 352L441 357L440 362"/>
<path d="M345 280L350 279L350 255.5"/>
<path d="M362 281L364 280L369 281L372 277.5"/>
<path d="M336.5 287L336 294L338.5 297L338 300"/>
<path d="M338 300L341 299L344.5 300"/>
<path d="M361.2 207.5L363.8 208.8L368.8 210"/>
<path d="M348.8 206.5L349 211L347.5 215L347.5 219L346.5 223"/>
<path d="M371 186.5L372.5 187.5L376.2 190L377.5 193.8L376.2 197.5L377.5 201.2L378.8 204.4"/>
<path d="M374 182L374.5 186L376.2 190"/>
<path d="M376.5 197L382 196.5L388 196L393 194L397.7 195.3"/>
<path d="M377.5 201.2L380 199.5L384 198.5L388 199L390 201.2"/>
<path d="M392 178.5L393 183L394 186.5L398 189L401 191.5L406.4 191.9"/>
<path d="M383 189L388 187L394 186.5"/>
<path d="M383 189L382 193L388 195.5"/>
<path d="M402.5 178.8L406 178.5L409.9 176.3"/>
<path d="M403.5 174.5L409 174L412.5 174.5L416 174.5"/>
<path d="M405 170L410 170L415.5 170.5"/>
<path d="M392 199L396.9 197.9"/>
<path d="M392 199L395 201L399.5 201.5L403.8 199.7"/>
<path d="M395 201L397 204L400 206L403 207L404.7 205.7"/>
<path d="M403 207L403.5 210L405.5 209.3"/>
<path d="M407.3 209.3L410.7 209.2L412.5 211.8"/>
<path d="M405.5 211.2L407 213L411 213.5L415 213L419 212"/>
<path d="M383 167.2L384.5 164.2L383.8 159.8L385.2 155.2L387.5 151.5L389.8 148.5L392 145.5L396.5 144L398.8 143.6"/>
<path d="M398.8 143.6L401.8 145.1L403.2 147.8L403.2 150.8L404.5 152.5"/>
<path d="M398.8 143.6L402 144L404.8 145.5L407 143.2L410 142.5L412.2 143.2"/>
<path d="M366.5 184.3L368.8 188.1"/>
<path d="M479.7 258.5L487.8 258.5L487.8 266.7L483.2 270.2"/>
<path d="M487.8 258.5L489.5 256"/>
<path d="M465 242.5L466.5 244.5L469.5 244"/>
</g>
<g fill="none" stroke="#c8c8c8" stroke-width="0.6" stroke-linejoin="round">
<path d="M417.5 267.5L417.5 278.8L415 283.8L416.2 290L420 296.2L425 305"/>
<path d="M397 309L405 307L415 307L425 305"/>
<path d="M418.8 293.8L423.8 295L430 295L435 292.5L437.5 288.8L440 291.2L441.2 296.2"/>
<path d="M446.2 273.8L445 277.5L442.5 283.8L440 291.2L438.8 297.5L440 302.5L442.5 307.5L450 308.8L455 310L460 307.5L465 305L472.5 300L470 298.8L462.5 296.2L457.5 291.2L460 287.5L455 283.8L450 281.2L446.2 273.8"/>
<path d="M433 310L430 315L431 323"/>
<path d="M441 307L433 310"/>
<path d="M405 333L404 325L405 317L403 311L397 309"/>
<path d="M391 334L400 335L403 339L410 338L413 342L414 348L418 349L422 351L427 352L430 354L428 347L429 343L432 340"/>
<path d="M414 349L414 357L414 365.5"/>
<path d="M414 365.5L421 366.9"/>
</g>
<!-- legend -->
<rect x="98.5" y="537.5" width="48" height="11" fill="url(#h)" stroke="#bbb" stroke-width="1"/>
<line x1="122.5" y1="534" x2="122.5" y2="537.5" stroke="#bbb" stroke-width="1"/>
<g stroke="#999" stroke-width="0.6">
<rect x="166.2" y="537.5" width="58.45" height="11" fill="#ffffd9"/>
<rect x="224.65" y="537.5" width="58.45" height="11" fill="#edf8b1"/>
<rect x="283.1" y="537.5" width="58.45" height="11" fill="#c7e9b4"/>
<rect x="341.55" y="537.5" width="58.45" height="11" fill="#7fcdbb"/>
<rect x="400" y="537.5" width="58.45" height="11" fill="#41b6c4"/>
<rect x="458.45" y="537.5" width="58.45" height="11" fill="#1d91c0"/>
<rect x="516.9" y="537.5" width="58.45" height="11" fill="#225ea8"/>
<rect x="575.35" y="537.5" width="58.45" height="11" fill="#253494"/>
<rect x="633.8" y="537.5" width="58.45" height="11" fill="#172b73"/>
<path d="M692.25 537.5H746.5L751 543L746.5 548.5H692.25Z" fill="#081d58"/>
</g>
<g stroke="#666" stroke-width="0.8">
<line x1="166.2" y1="534" x2="166.2" y2="548.5"/>
<line x1="224.65" y1="534" x2="224.65" y2="548.5"/>
<line x1="283.1" y1="534" x2="283.1" y2="548.5"/>
<line x1="341.55" y1="534" x2="341.55" y2="548.5"/>
<line x1="400" y1="534" x2="400" y2="548.5"/>
<line x1="458.45" y1="534" x2="458.45" y2="548.5"/>
<line x1="516.9" y1="534" x2="516.9" y2="548.5"/>
<line x1="575.35" y1="534" x2="575.35" y2="548.5"/>
<line x1="633.8" y1="534" x2="633.8" y2="548.5"/>
<line x1="692.25" y1="534" x2="692.25" y2="548.5"/>
</g>
</svg>
<div class="t" id="title">Adolescent birth rate, 15-19 year olds, 2023</div>
<div class="t" id="sub">Estimated number of live births per 1,000 women aged 15 to 19 years old.</div>
<div id="logo"><div>Our World<br>in Data</div></div>
<div class="lab" style="left:122.5px">No data</div>
<div class="lab" style="left:166.2px">0</div>
<div class="lab" style="left:224.65px">10</div>
<div class="lab" style="left:283.1px">20</div>
<div class="lab" style="left:341.55px">30</div>
<div class="lab" style="left:400px">40</div>
<div class="lab" style="left:458.45px">50</div>
<div class="lab" style="left:516.9px">60</div>
<div class="lab" style="left:575.35px">80</div>
<div class="lab" style="left:633.8px">90</div>
<div class="lab" style="left:692.25px">100</div>
<div class="t" id="foot"><b>Data source:</b> United Nations Department of Economic and Social Affairs Population Division</div>
<div class="t" id="foot2">OurWorldinData.org/maternal-mortality | CC BY</div>
</body></html>
